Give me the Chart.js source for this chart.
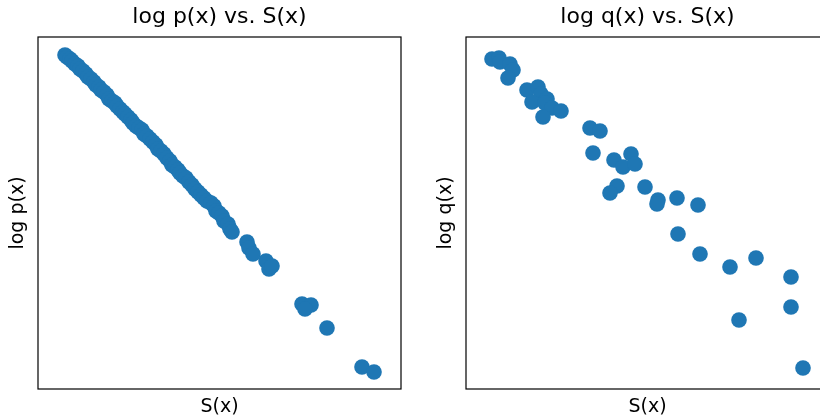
<!DOCTYPE html>
<html>
<head>
<meta charset="utf-8">
<script src="https://cdn.jsdelivr.net/npm/chart.js@4/dist/chart.umd.min.js"></script>
<style>
  html, body { margin: 0; padding: 0; width: 820px; height: 420px; overflow: hidden; background: #fff; }
  canvas { position: absolute; top: 0; }
</style>
</head>
<body>
<canvas id="c1" width="420" height="420" style="left:0px;width:420px;height:420px"></canvas>
<canvas id="c2" width="420" height="420" style="left:428px;width:420px;height:420px"></canvas>
<script>
// Values (relative units; axes carry no ticks)
const titles = ["log p(x) vs. S(x)", "log q(x) vs. S(x)"];
const xLabel = "S(x)";
const yLabels = ["log p(x)", "log q(x)"];

// Left panel: S(x)
const sP = [27,29,32,34,37,40,42,45,48,50,53,56,58,61,63,66,69,71,74,77,79,82,85,87,90,93,95,98,101,104,106,109,112,115,118,120,123,126,129,132,134,137,140,142,145,148,151,154,157,160,163,166,169,173,176,178,181,184,186,190,192,194,
  209,211,215,228,231,234,264,273,267,289,324,336];
// Left panel: log p(x)
const logP = [334,332,330,328,325,323,320,318,315,312,310,307,304,302,299,297,294,290,288,286,283,280,277,275,272,269,266,263,261,259,255,253,250,247,244,240,238,235,231,228,224,222,219,216,213,211,207,204,200,197,194,191,188,186,183,178,176,173,168,165,160,157,
  147,141,135,128,120,123,85,84,80,61,22,17];

// Right panel: S(x)
const sQ = [26,33,34,44,47,42,61,72,75,81,66,79,86,95,77,124,134,127,148,165,157,169,151,144,179,192,191,211,232,212,234,264,290,325,325,273,337];
// Right panel: log q(x)
const logQ = [330,331,327,325,319,311,299,302,295,290,287,286,281,278,272,261,258,236,229,235,222,225,203,196,202,189,185,191,184,155,135,122,131,112,82,69,21];

const BLUE = "#1f77b4";
const FONT = "'DejaVu Sans', sans-serif";

const frame = {
  id: "frame",
  afterDraw(chart) {
    const a = chart.chartArea, ctx = chart.ctx;
    ctx.save();
    ctx.strokeStyle = "#000";
    ctx.lineWidth = 1.2;
    ctx.strokeRect(a.left, a.top, a.right - a.left, a.bottom - a.top);
    ctx.restore();
  }
};

function makeChart(id, xs, ys, title, yLabel) {
  const pts = xs.map((x, i) => ({ x: x, y: ys[i] }));
  const hidden = { display: false };
  const noBorder = { display: false };
  return new Chart(document.getElementById(id), {
    type: "scatter",
    data: { datasets: [{ data: pts, backgroundColor: BLUE, borderColor: BLUE, borderWidth: 0, pointRadius: 7.8, pointHoverRadius: 7.8 }] },
    options: {
      responsive: false,
      animation: false,
      devicePixelRatio: 1,
      layout: { padding: { left: 0, right: 19, top: 0, bottom: 0 } },
      plugins: { legend: hidden, tooltip: { enabled: false }, title: hidden },
      scales: {
        x: {
          type: "linear", position: "bottom", min: 0, max: 363,
          ticks: hidden, grid: { display: false }, border: noBorder,
          title: { display: true, text: xLabel, color: "#000", font: { family: FONT, size: 19 }, padding: { top: 0, bottom: 1.5 } },
          afterFit: s => { s.height = 31; }
        },
        y: {
          type: "linear", position: "left", min: 0, max: 352,
          ticks: hidden, grid: { display: false }, border: noBorder,
          title: { display: true, text: yLabel, color: "#000", font: { family: FONT, size: 19 }, padding: { top: 7, bottom: 0 } },
          afterFit: s => { s.width = 38; }
        },
        x2: {
          type: "linear", position: "top", min: 0, max: 363,
          ticks: hidden, grid: { display: false }, border: noBorder,
          title: { display: true, text: title, color: "#000", font: { family: FONT, size: 22 }, padding: { top: 4, bottom: 0 } },
          afterFit: s => { s.height = 37; }
        }
      }
    },
    plugins: [frame]
  });
}

makeChart("c1", sP, logP, titles[0], yLabels[0]);
makeChart("c2", sQ, logQ, titles[1], yLabels[1]);
</script>
</body>
</html>
